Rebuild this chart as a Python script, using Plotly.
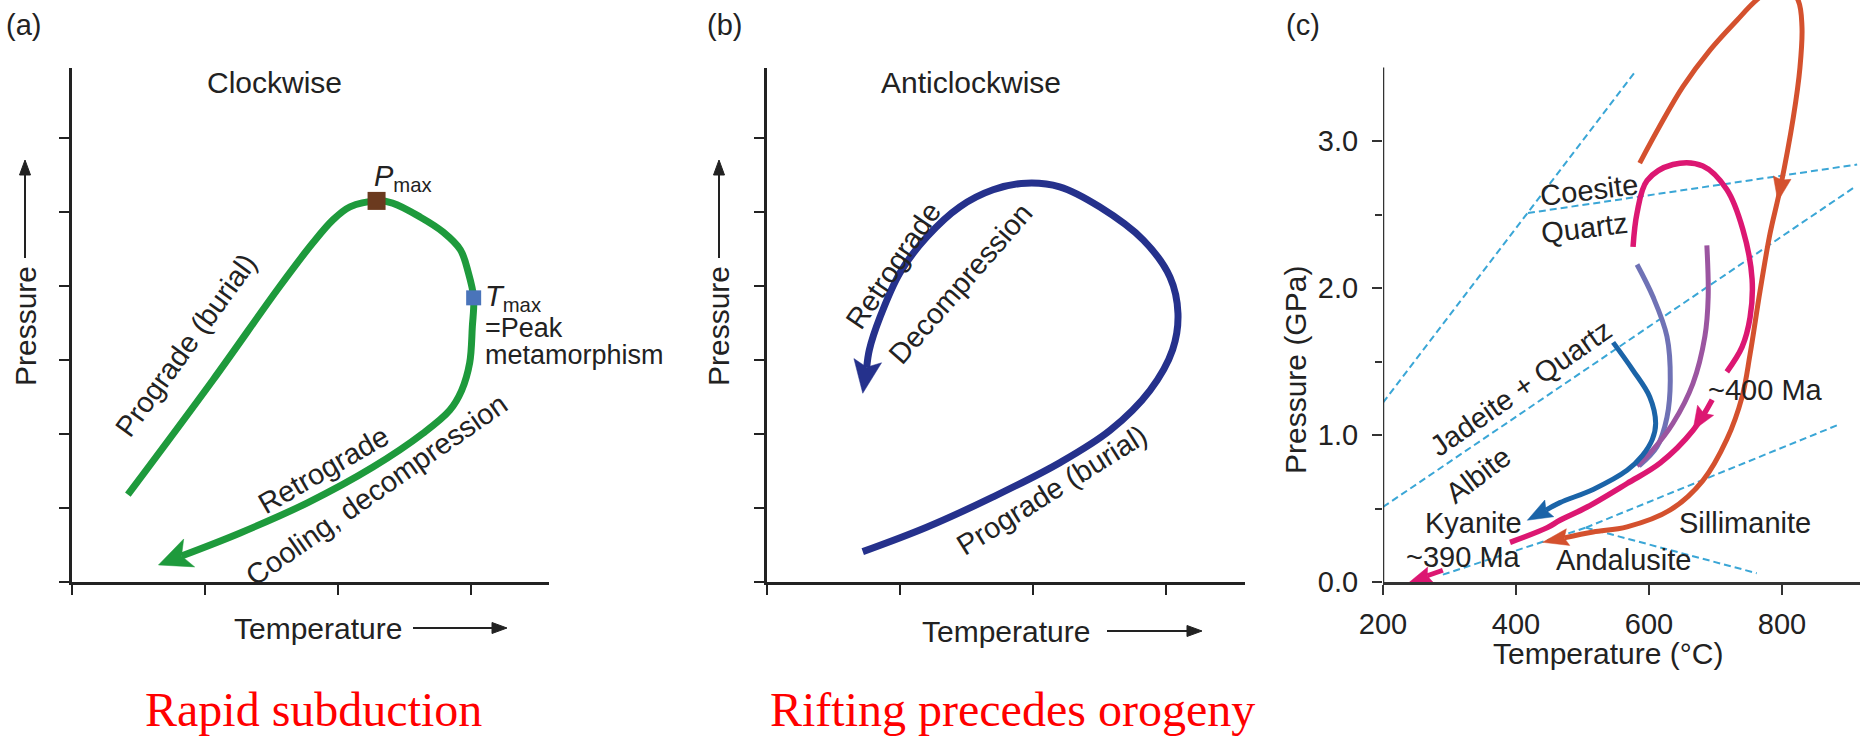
import math
import plotly.graph_objects as go

W, H = 1865, 739

# ---------------- data ----------------
# Panel (a): clockwise P-T path (arbitrary temperature / pressure units)
a_temp = [0.42, 1.06, 1.56, 1.81, 1.96, 2.09, 2.29, 2.41, 2.62, 2.79, 2.92, 2.98, 3.02,
          3.01, 2.99, 2.93, 2.84, 2.64, 2.26, 1.77, 1.26, 0.65]
a_pres = [1.18, 2.73, 3.99, 4.58, 4.89, 5.07, 5.15, 5.12, 4.93, 4.73, 4.49, 4.18, 3.84,
          3.45, 2.96, 2.59, 2.32, 2.01, 1.55, 1.07, 0.66, 0.23]
a_pmax = [2.29, 5.15]
a_tmax = [3.02, 3.84]
a_xticks = [0, 1, 2, 3]
a_yticks = [0, 1, 2, 3, 4, 5, 6]

# Panel (b): anticlockwise P-T path
b_temp = [0.72, 1.20, 1.70, 2.20, 2.58, 2.88, 3.05, 3.09, 3.03, 2.83, 2.50, 2.20, 1.95,
          1.70, 1.45, 1.20, 1.00, 0.85, 0.77, 0.72]
b_pres = [0.41, 0.74, 1.15, 1.61, 2.05, 2.59, 3.14, 3.63, 4.12, 4.62, 5.07, 5.34, 5.39,
          5.30, 5.07, 4.66, 4.18, 3.58, 3.14, 2.55]

# Panel (c): temperature (degC) / pressure (GPa)
c_xticks = [200, 400, 600, 800]
c_xticktext = ["200", "400", "600", "800"]
c_yticks = [0, 1, 2, 3]
c_yticktext = ["0.0", "1.0", "2.0", "3.0"]
c_yminor = [0.5, 1.5, 2.5]

# reaction boundaries (dashed)
bnd_low_T, bnd_low_P = [200, 418, 579], [1.22, 2.51, 3.47]
bnd_coe_T, bnd_coe_P = [418, 913], [2.51, 2.84]
bnd_jd_T, bnd_jd_P = [200, 907], [0.51, 2.68]
bnd_kyand_T, bnd_kyand_P = [290, 505], [0.05, 0.37]
bnd_kysil_T, bnd_kysil_P = [505, 885], [0.37, 1.07]
bnd_andsil_T, bnd_andsil_P = [505, 762], [0.37, 0.06]

# P-T paths
orange_T = [586, 616, 651, 692, 732, 762, 800, 824, 830, 827, 817, 797, 782, 767, 752,
            740, 717, 681, 632, 567, 516, 440]
orange_P = [2.85, 3.10, 3.37, 3.62, 3.82, 3.96, 4.08, 3.96, 3.78, 3.50, 3.16, 2.67, 2.37,
            1.98, 1.55, 1.26, 0.97, 0.69, 0.49, 0.375, 0.34, 0.27]
magenta_up_T = [576, 582, 597, 636, 681, 717, 741, 755, 752, 740, 717]
magenta_up_P = [2.28, 2.51, 2.73, 2.84, 2.83, 2.67, 2.40, 2.06, 1.80, 1.60, 1.43]
magenta_lo_T = [695, 666, 617, 567, 507, 466, 447, 391]
magenta_lo_P = [1.24, 1.03, 0.81, 0.67, 0.51, 0.42, 0.37, 0.27]
magenta_390_T = [290, 240]
magenta_390_P = [0.08, 0.0]
blue_T = [546, 576, 601, 610, 605, 590, 567, 516, 466, 417]
blue_P = [1.63, 1.44, 1.26, 1.08, 0.97, 0.86, 0.76, 0.63, 0.54, 0.42]
slate_T = [582, 606, 627, 632, 627, 612, 585]
slate_P = [2.16, 1.94, 1.67, 1.37, 1.12, 0.92, 0.79]
violet_T = [687, 689, 684, 666, 636, 606, 582]
violet_P = [2.29, 1.94, 1.67, 1.35, 1.08, 0.90, 0.79]

# ---------------- geometry helpers (window pixel coordinates) ----------------
AX = {
    "a": dict(x0=72, x1=549, sx=133.0, xmin=0.0, y0=582, y1=68, sy=74.0, ymin=0.0, xr="x", yr="y"),
    "b": dict(x0=767, x1=1245, sx=133.0, xmin=0.0, y0=582, y1=68, sy=74.0, ymin=0.0, xr="x2", yr="y2"),
    "c": dict(x0=1383, x1=1860, sx=0.665, xmin=200.0, y0=582, y1=0, sy=147.0, ymin=0.0, xr="x3", yr="y3"),
}


def pxd(px):
    return px / W


def pyd(py):
    return 1 - py / H


def to_px(ax, x, y):
    return ax["x0"] + (x - ax["xmin"]) * ax["sx"], ax["y0"] - (y - ax["ymin"]) * ax["sy"]


def to_data(ax, px, py):
    return ax["xmin"] + (px - ax["x0"]) / ax["sx"], ax["ymin"] + (ax["y0"] - py) / ax["sy"]


def head_px(tx, ty, bx, by, L, Wd, notch=0.0, anchor="tip"):
    dx, dy = tx - bx, ty - by
    n = math.hypot(dx, dy)
    dx, dy = dx / n, dy / n
    if anchor == "center":
        tx, ty = tx + dx * L / 2, ty + dy * L / 2
    basex, basey = tx - dx * L, ty - dy * L
    nx, ny = -dy, dx
    return [(tx, ty),
            (basex + nx * Wd / 2, basey + ny * Wd / 2),
            (basex + dx * L * notch, basey + dy * L * notch),
            (basex - nx * Wd / 2, basey - ny * Wd / 2),
            (tx, ty)]


def head(ax, tip, back, L, Wd, notch=0.0, anchor="tip"):
    tx, ty = to_px(ax, *tip)
    bx, by = to_px(ax, *back)
    pts = head_px(tx, ty, bx, by, L, Wd, notch, anchor)
    dpts = [to_data(ax, *p) for p in pts]
    return [p[0] for p in dpts], [p[1] for p in dpts], dpts[2]


fig = go.Figure()


def line(ax, xs, ys, color, width, dash=None, spline=True):
    fig.add_trace(go.Scatter(
        x=xs, y=ys, mode="lines", xaxis=ax["xr"], yaxis=ax["yr"],
        line=dict(color=color, width=width, dash=dash, shape="spline" if spline else "linear",
                  smoothing=1.0),
        hoverinfo="skip", showlegend=False))


def poly(ax, xs, ys, color):
    fig.add_trace(go.Scatter(
        x=xs, y=ys, mode="lines", fill="toself", fillcolor=color, xaxis=ax["xr"], yaxis=ax["yr"],
        line=dict(color=color, width=0.5), hoverinfo="skip", showlegend=False))


def path_with_head(ax, xs, ys, color, width, L, Wd, notch):
    hx, hy, nt = head(ax, (xs[-1], ys[-1]), (xs[-2], ys[-2]), L, Wd, notch)
    line(ax, xs[:-1] + [nt[0]], ys[:-1] + [nt[1]], color, width)
    poly(ax, hx, hy, color)


A, B, C = AX["a"], AX["b"], AX["c"]

# ---------------- panel (a) ----------------
GREEN = "#1e9a3c"
path_with_head(A, a_temp, a_pres, GREEN, 7, 33, 30, 0.25)
fig.add_trace(go.Scatter(x=[a_pmax[0]], y=[a_pmax[1]], mode="markers", xaxis="x", yaxis="y",
                         marker=dict(symbol="square", size=18, color="#6b3a1f"),
                         hoverinfo="skip", showlegend=False))
fig.add_trace(go.Scatter(x=[a_tmax[0]], y=[a_tmax[1]], mode="markers", xaxis="x", yaxis="y",
                         marker=dict(symbol="square", size=15, color="#4a74ba"),
                         hoverinfo="skip", showlegend=False))

# ---------------- panel (b) ----------------
NAVY = "#25318c"
path_with_head(B, b_temp, b_pres, NAVY, 7, 33, 28, 0.2)

# ---------------- panel (c) ----------------
DASH = "#3aa6d6"
for bt, bp in [(bnd_low_T, bnd_low_P), (bnd_coe_T, bnd_coe_P), (bnd_jd_T, bnd_jd_P),
               (bnd_kyand_T, bnd_kyand_P), (bnd_kysil_T, bnd_kysil_P), (bnd_andsil_T, bnd_andsil_P)]:
    line(C, bt, bp, DASH, 2, dash="7px,4px", spline=False)

ORANGE = "#d4512e"
MAGENTA = "#dc1772"
BLUE = "#1b64a8"
SLATE = "#6f72b5"
VIOLET = "#9b55a0"

path_with_head(C, orange_T, orange_P, ORANGE, 5, 26, 17, 0.15)
i_mid = orange_P.index(2.67)
hx, hy, _ = head(C, (orange_T[i_mid], orange_P[i_mid]), (orange_T[i_mid - 1], orange_P[i_mid - 1]),
                 24, 18, 0.1, anchor="center")
poly(C, hx, hy, ORANGE)

line(C, magenta_up_T, magenta_up_P, MAGENTA, 5.5)
line(C, magenta_lo_T, magenta_lo_P, MAGENTA, 5.5)
hx, hy, _ = head(C, (magenta_lo_T[1], magenta_lo_P[1]), (magenta_lo_T[0], magenta_lo_P[0]), 24, 19, 0.15)
poly(C, hx, hy, MAGENTA)
path_with_head(C, magenta_390_T, magenta_390_P, MAGENTA, 5, 22, 16, 0.15)

line(C, slate_T, slate_P, SLATE, 5)
line(C, violet_T, violet_P, VIOLET, 5)
path_with_head(C, blue_T, blue_P, BLUE, 5, 25, 19, 0.15)

# y axis line of panel (c) only up to 3.5 GPa (the plotting area extends above it)
fig.add_shape(type="line", xref="x3", yref="y3", x0=200, x1=200, y0=0, y1=3.5,
              line=dict(color="#333", width=2.5))

# ---------------- axes ----------------
common_ax = dict(showgrid=False, zeroline=False, showline=True, linecolor="#222", linewidth=2.5,
                 ticks="outside", ticklen=10, tickwidth=2, tickcolor="#222", fixedrange=True)

layout_axes = {}
for key, xa, ya in [("a", "xaxis", "yaxis"), ("b", "xaxis2", "yaxis2")]:
    ax = AX[key]
    layout_axes[xa] = dict(common_ax, domain=[pxd(ax["x0"]), pxd(ax["x1"])],
                           range=[0, (ax["x1"] - ax["x0"]) / ax["sx"]],
                           anchor=ax["yr"], tickvals=a_xticks, showticklabels=False)
    layout_axes[ya] = dict(common_ax, domain=[pyd(ax["y0"]), pyd(ax["y1"])],
                           range=[0, (ax["y0"] - ax["y1"]) / ax["sy"]],
                           anchor=ax["xr"], tickvals=a_yticks, showticklabels=False)

layout_axes["xaxis3"] = dict(common_ax, domain=[pxd(C["x0"]), pxd(C["x1"])],
                             range=[200, 200 + (C["x1"] - C["x0"]) / C["sx"]],
                             anchor="y3", tickvals=c_xticks, ticktext=c_xticktext,
                             linecolor="#333", tickcolor="#333",
                             tickfont=dict(size=29, color="#222"), ticklabelstandoff=4)
layout_axes["yaxis3"] = dict(common_ax, domain=[pyd(C["y0"]), pyd(C["y1"])],
                             range=[0, (C["y0"] - C["y1"]) / C["sy"]], showline=False,
                             anchor="x3", tickvals=c_yticks, ticktext=c_yticktext,
                             tickcolor="#333",
                             minor=dict(tickvals=c_yminor, ticks="outside", ticklen=7,
                                        tickwidth=2, tickcolor="#333"),
                             tickfont=dict(size=29, color="#222"), ticklabelstandoff=8)

fig.update_layout(width=W, height=H,
                  margin=dict(l=0, r=0, t=0, b=0, pad=0, autoexpand=False),
                  paper_bgcolor="white", plot_bgcolor="white",
                  font=dict(family="Liberation Sans, Arial, sans-serif", size=29, color="#222"),
                  showlegend=False, **layout_axes)


# ---------------- text ----------------
def txt(text, px, py, size=29, angle=0, color="#222", family=None, xanchor="center"):
    f = dict(size=size, color=color)
    if family:
        f["family"] = family
    fig.add_annotation(x=pxd(px), y=pyd(py), xref="paper", yref="paper", text=text,
                       showarrow=False, textangle=angle, font=f, xanchor=xanchor,
                       yanchor="middle")


def axis_arrow(tx_, ty_, hx_, hy_):
    """Black arrow (shaft + filled head) in window pixels, drawn as paper shapes."""
    pts = head_px(hx_, hy_, tx_, ty_, 15, 11, 0.0)
    bx, by = pts[2]
    fig.add_shape(type="line", xref="paper", yref="paper", x0=pxd(tx_), y0=pyd(ty_),
                  x1=pxd(bx), y1=pyd(by), line=dict(color="#222", width=2))
    path = "M " + " L ".join(f"{pxd(p[0]):.6f},{pyd(p[1]):.6f}" for p in pts[:4]) + " Z"
    fig.add_shape(type="path", xref="paper", yref="paper", path=path,
                  fillcolor="#222", line=dict(color="#222", width=1))


# panel (a)
txt("(a)", 23, 25)
txt("Clockwise", 274, 83, size=30)
txt("Pressure", 25, 326, size=30, angle=-90)
axis_arrow(25, 258, 25, 160)
txt("Temperature", 318, 628, size=30)
axis_arrow(413, 628, 507, 628)
txt("Prograde (burial)", 186, 345, angle=-54)
txt("Retrograde", 323, 470, angle=-30)
txt("Cooling, decompression", 376, 490, angle=-35)
txt("<i>P</i><sub>max</sub>", 372, 178, xanchor="left")
txt("<i>T</i><sub>max</sub>", 483, 298, xanchor="left")
txt("=Peak", 483, 328, size=27, xanchor="left")
txt("metamorphism", 483, 355, size=27, xanchor="left")

# panel (b)
txt("(b)", 724, 25)
txt("Anticlockwise", 971, 83, size=30)
txt("Pressure", 718, 326, size=30, angle=-90)
axis_arrow(719, 258, 719, 160)
txt("Temperature", 1006, 631, size=30)
axis_arrow(1107, 631, 1202, 631)
txt("Retrograde", 893, 266, angle=-56)
txt("Decompression", 960, 284, angle=-49)
txt("Prograde (burial)", 1052, 490, angle=-32)

# panel (c)
txt("(c)", 1303, 25)
txt("Pressure (GPa)", 1295, 370, size=30, angle=-90)
txt("Temperature (°C)", 1608, 653, size=30)
txt("Coesite", 1589, 190, angle=-7)
txt("Quartz", 1584, 228, angle=-7)
txt("Jadeite + Quartz", 1521, 388, angle=-35)
txt("Albite", 1478, 475, angle=-37)
txt("Kyanite", 1473, 523)
txt("~390 Ma", 1463, 557)
txt("Andalusite", 1623, 560)
txt("Sillimanite", 1745, 523)
txt("~400 Ma", 1765, 390)

# red captions
SERIF = "Liberation Serif, Times New Roman, serif"
txt("Rapid subduction", 313, 709, size=48, color="#ff0000", family=SERIF)
txt("Rifting precedes orogeny", 1013, 709, size=48, color="#ff0000", family=SERIF)

fig.write_html("out.html", config={"displayModeBar": False},
               post_script="document.body.style.margin='0';document.body.style.overflow='hidden';")
